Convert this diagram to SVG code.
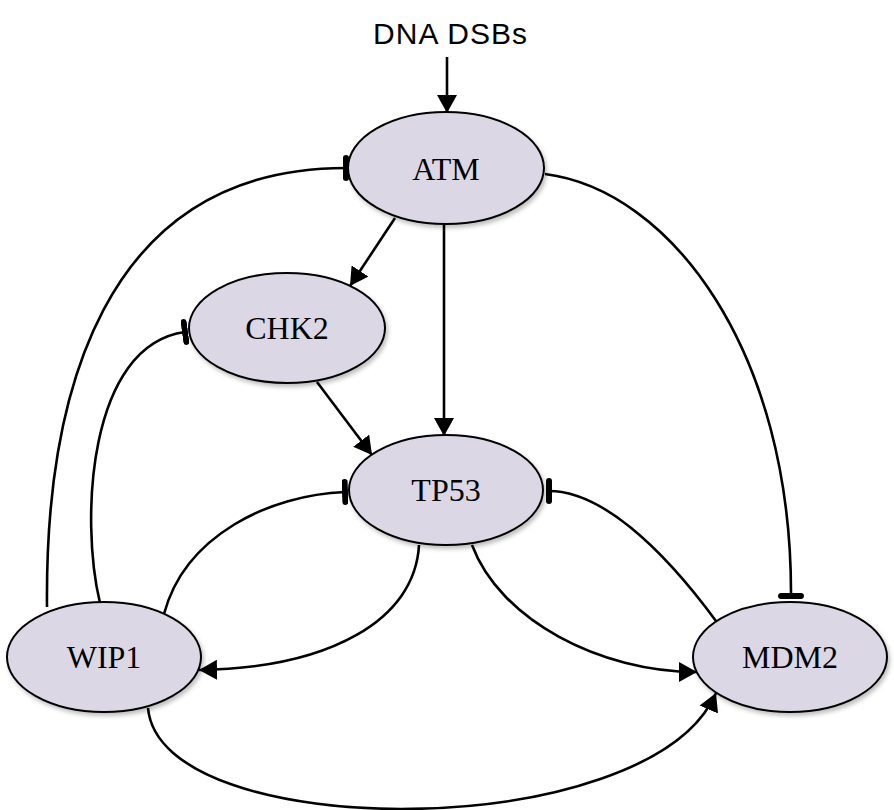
<svg xmlns="http://www.w3.org/2000/svg" width="894" height="810" viewBox="0 0 894 810">
<defs>
<style>
.node ellipse{fill:#dcd7e5;stroke:#000;stroke-width:2;filter:url(#sh)}
.node text{font-family:"Liberation Serif","Times New Roman",serif;font-size:32px;fill:#000;text-anchor:middle}
.edge{fill:none;stroke:#000;stroke-width:2.6}
.act{marker-end:url(#arr)}
.inh{marker-end:url(#bar)}
</style>
<filter id="sh" x="-10%" y="-10%" width="120%" height="130%">
<feDropShadow dx="2" dy="3" stdDeviation="2" flood-color="#000" flood-opacity="0.25"/>
</filter>
<marker id="arr" viewBox="0 0 18 20" refX="18" refY="10" markerWidth="18" markerHeight="20" markerUnits="userSpaceOnUse" orient="auto">
<path d="M0,0 L18,10 L0,20 Z" fill="#000"/>
</marker>
<marker id="bar" viewBox="0 0 6 26" refX="3" refY="13" markerWidth="6" markerHeight="26" markerUnits="userSpaceOnUse" orient="auto">
<rect x="0" y="0" width="6" height="26" rx="3" fill="#000"/>
</marker>
</defs>
<rect width="894" height="810" fill="#fff"/>
<text x="450" y="44" font-family="Liberation Sans, Arial, sans-serif" font-size="30" text-anchor="middle" textLength="154">DNA DSBs</text>
<g id="connectors">
<path class="edge act" d="M447,57 L447,113"/>
<path class="edge act" d="M395,218 L350,286"/>
<path class="edge act" d="M444,224 L444,436"/>
<path class="edge act" d="M317,382 L372,455"/>
<path class="edge inh" d="M545,174 C670,190 792,350 791,596"/>
<path class="edge inh" d="M47,607 C45,400 100,168 346,168"/>
<path class="edge inh" d="M100,603 C80,520 88,345 185,332"/>
<path class="edge inh" d="M164,614 C185,535 270,495 345,492"/>
<path class="edge inh" d="M716,621 C660,545 600,491 549,491"/>
<path class="edge act" d="M419,545 C415,620 330,668 199,670"/>
<path class="edge act" d="M472,545 C500,620 600,672 697,672"/>
<path class="edge act" d="M148,708 C160,845 650,845 716,693"/>
</g>
<g id="ATM" class="node"><ellipse cx="446" cy="168" rx="98" ry="56"/><text x="446" y="180">ATM</text></g>
<g id="CHK2" class="node"><ellipse cx="287" cy="328" rx="98" ry="55"/><text x="287" y="339">CHK2</text></g>
<g id="TP53" class="node"><ellipse cx="446" cy="490" rx="97" ry="55"/><text x="446" y="501">TP53</text></g>
<g id="WIP1" class="node"><ellipse cx="104" cy="657" rx="97" ry="55"/><text x="104" y="668">WIP1</text></g>
<g id="MDM2" class="node"><ellipse cx="790" cy="657" rx="97" ry="55"/><text x="790" y="668">MDM2</text></g>
</svg>
